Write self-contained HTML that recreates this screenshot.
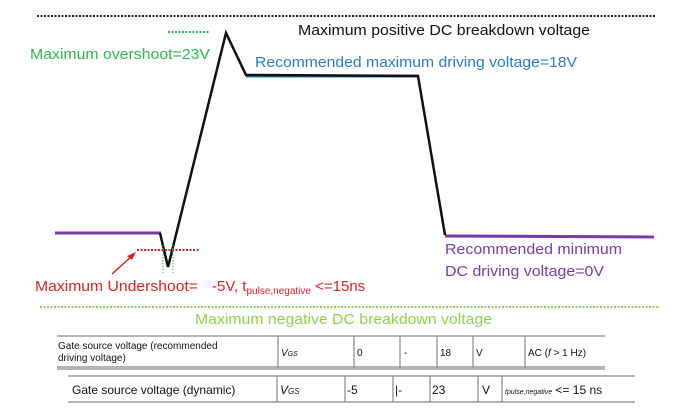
<!DOCTYPE html>
<html><head><style>body{margin:0;background:#fff}svg{display:block}text{font-family:"Liberation Sans",sans-serif}</style></head><body>
<svg width="680" height="413" viewBox="0 0 680 413">
<line x1="37" y1="16" x2="656" y2="16" stroke="#222" stroke-width="2" stroke-dasharray="2,1.5"/>
<text x="298" y="35" font-size="15" fill="#111" textLength="292" lengthAdjust="spacingAndGlyphs">Maximum positive  DC breakdown  voltage</text>
<line x1="168" y1="32" x2="209" y2="32" stroke="#2db84a" stroke-width="2" stroke-dasharray="2,1.5"/>
<text x="30" y="59" font-size="15" fill="#2db84a" textLength="180" lengthAdjust="spacingAndGlyphs">Maximum overshoot=23V</text>
<text x="255" y="67" font-size="15" fill="#2a7bd0" textLength="322" lengthAdjust="spacingAndGlyphs">Recommended  maximum driving voltage=18V</text>
<line x1="246" y1="76" x2="418" y2="76" stroke="#2a7bd0" stroke-width="3"/>
<line x1="55" y1="233" x2="161" y2="233" stroke="#7a3aa8" stroke-width="3"/>
<line x1="445" y1="236" x2="654" y2="237" stroke="#7a3aa8" stroke-width="3"/>
<polyline points="160,233 168,267 226,33 246,75 418,76 445,235" fill="none" stroke="#111" stroke-width="2.5"/>
<line x1="137" y1="250" x2="200" y2="250" stroke="#e02020" stroke-width="2" stroke-dasharray="2,1.5"/>
<line x1="163" y1="245" x2="163" y2="273" stroke="#2db84a" stroke-width="1" stroke-dasharray="1.5,1.5"/>
<line x1="173" y1="245" x2="173" y2="273" stroke="#2db84a" stroke-width="1" stroke-dasharray="1.5,1.5"/>
<line x1="112" y1="274" x2="132" y2="256" stroke="#e02020" stroke-width="1.5"/>
<polygon points="136,252 127,256 132,260" fill="#e02020"/>
<text x="35" y="291" font-size="15" fill="#e02020" textLength="163" lengthAdjust="spacingAndGlyphs">Maximum Undershoot=</text>
<text x="212" y="291" font-size="15" fill="#e02020">-5V, t<tspan font-size="10" dy="3">pulse,negative</tspan><tspan dy="-3"> &lt;=15ns</tspan></text>
<text x="445" y="254" font-size="15" fill="#7a3aa8" textLength="177" lengthAdjust="spacingAndGlyphs">Recommended  minimum</text>
<text x="445" y="276" font-size="15" fill="#7a3aa8" textLength="159" lengthAdjust="spacingAndGlyphs">DC driving voltage=0V</text>
<line x1="40" y1="307" x2="660" y2="307" stroke="#8bd44a" stroke-width="2" stroke-dasharray="2,1.5"/>
<text x="195" y="324" font-size="15" fill="#8bd44a" textLength="297" lengthAdjust="spacingAndGlyphs">Maximum negative  DC breakdown  voltage</text>
<g stroke="#888" stroke-width="1.2">
<line x1="57" y1="336" x2="605" y2="336"/><line x1="57" y1="367" x2="605" y2="367"/><line x1="57" y1="369" x2="605" y2="369"/>
<line x1="278" y1="336" x2="278" y2="368"/><line x1="354" y1="336" x2="354" y2="368"/><line x1="400" y1="336" x2="400" y2="368"/><line x1="437" y1="336" x2="437" y2="368"/><line x1="473" y1="336" x2="473" y2="368"/><line x1="525" y1="336" x2="525" y2="368"/>
<line x1="68" y1="376" x2="635" y2="376"/><line x1="68" y1="402" x2="635" y2="402"/>
<line x1="277" y1="376" x2="277" y2="402"/><line x1="345" y1="376" x2="345" y2="402"/><line x1="393" y1="376" x2="393" y2="402"/><line x1="430" y1="376" x2="430" y2="402"/><line x1="478" y1="376" x2="478" y2="402"/><line x1="502" y1="376" x2="502" y2="402"/>
</g>
<g font-size="10" fill="#111">
<text x="58" y="349">Gate source voltage (recommended</text><text x="58" y="361">driving voltage)</text>
<text x="281" y="356" font-style="italic">V<tspan font-size="7">GS</tspan></text>
<text x="357" y="356">0</text><text x="404" y="356">-</text><text x="440" y="356">18</text><text x="476" y="356">V</text>
<text x="528" y="356">AC (<tspan font-style="italic">f</tspan> &gt; 1 Hz)</text>
</g>
<g font-size="12" fill="#111">
<text x="72" y="394">Gate source voltage (dynamic)</text>
<text x="280" y="394" font-style="italic">V<tspan font-size="8">GS</tspan></text>
<text x="347" y="394">-5</text><text x="395" y="394">|-</text><text x="432" y="394">23</text><text x="482" y="394">V</text>
<text x="505" y="394"><tspan font-size="7" font-style="italic">tpulse,negative</tspan> &lt;= 15 ns</text>
</g>
</svg>
</body></html>
